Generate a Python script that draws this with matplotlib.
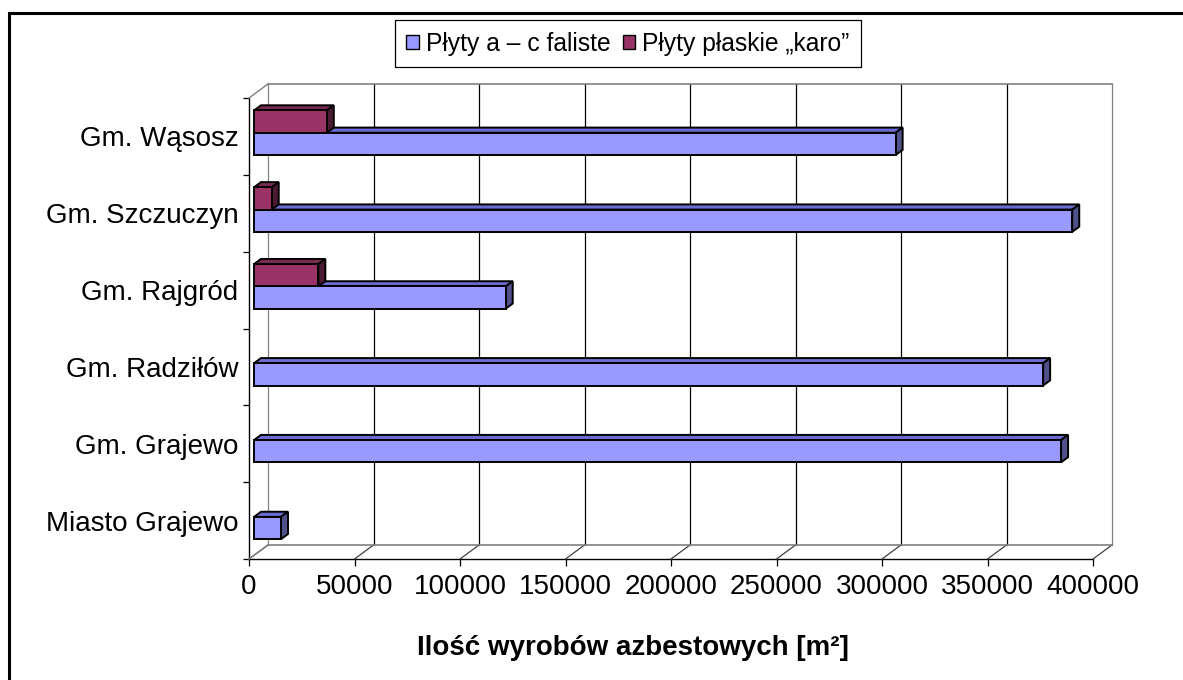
# wykres ilości wyrobów azbestowych wg gmin (styl Excel 3D)
import numpy as np
import matplotlib
matplotlib.use('Agg')
import matplotlib.pyplot as plt
from matplotlib.patches import Polygon, Patch, Rectangle
from matplotlib.lines import Line2D
from matplotlib.transforms import IdentityTransform

plt.rcParams['font.family'] = ['Liberation Sans', 'DejaVu Sans']

# -----------------dane
gminy = ['Miasto Grajewo', 'Gm. Grajewo', 'Gm. Radziłów', 'Gm. Rajgród',
         'Gm. Szczuczyn', 'Gm. Wąsosz']
faliste = [12800, 382500, 374000, 119300, 387800, 304100]  # Płyty a – c faliste
karo = [0, 0, 0, 30500, 8400, 34500]                        # Płyty płaskie „karo”
serie = ['Płyty a – c faliste', 'Płyty płaskie „karo”']
xticks = list(range(0, 400001, 50000))

# -----------------kolory (przód, góra, bok)
kol_fal = ('#9999FF', '#6B6BD0', '#50508A')
kol_karo = ('#993366', '#7A2952', '#4D1A33')

W, H = 1183, 680
fig = plt.figure(figsize=(W / 100, H / 100), dpi=100)
ax = fig.add_axes([249 / W, 1 - 559 / H, (1093 - 249) / W, (559 - 98) / H])
ax.set_xlim(0, 400000)
ax.set_ylim(0, len(gminy))

glebia = np.array([19.0, 14.0])  # przesunięcie tylnej ściany w pikselach


def pkt(x, y, d):  # punkt (wartość, kategoria, głębokość 0..1) -> piksele
    return ax.transData.transform((x, y)) + d * glebia


def linia(p1, p2, kolor, lw=1.0, z=1):
    fig.add_artist(Line2D([p1[0], p2[0]], [p1[1], p2[1]], color=kolor, lw=lw,
                          transform=IdentityTransform(), zorder=z))


def wielokat(pts, kolor, z):
    fig.add_artist(Polygon(pts, closed=True, facecolor=kolor, edgecolor='black',
                           lw=1.4, joinstyle='miter', transform=IdentityTransform(),
                           zorder=z))


# -----------------ściany
n = len(gminy)
szary = '#808080'
for x in xticks:
    kol = szary if x in (xticks[0], xticks[-1]) else 'black'
    linia(pkt(x, 0, 1), pkt(x, n, 1), kol, 0.9)
    linia(pkt(x, 0, 0), pkt(x, 0, 1), '#404040', 0.9)
linia(pkt(0, n, 1), pkt(400000, n, 1), szary, 1.2)
linia(pkt(0, 0, 1), pkt(400000, 0, 1), szary, 1.2)
linia(pkt(0, n, 0), pkt(0, n, 1), szary, 1.0)
linia(pkt(0, 0, 0), pkt(0, 0, 1), szary, 1.0)

# -----------------słupki
h = 0.29
df, db = 5 / 19, 12 / 19
z = 5
for i in range(n):
    c = i + 0.5
    for v, y0, y1, kol in ((faliste[i], c - h, c, kol_fal), (karo[i], c, c + h, kol_karo)):
        if v <= 0:
            continue
        przod = [pkt(0, y0, df), pkt(v, y0, df), pkt(v, y1, df), pkt(0, y1, df)]
        gora = [pkt(0, y1, df), pkt(v, y1, df), pkt(v, y1, db), pkt(0, y1, db)]
        bok = [pkt(v, y0, df), pkt(v, y0, db), pkt(v, y1, db), pkt(v, y1, df)]
        wielokat(gora, kol[1], z)
        wielokat(bok, kol[2], z)
        wielokat(przod, kol[0], z + 0.5)
        z += 1

# -----------------osie
for s in ('top', 'right'):
    ax.spines[s].set_visible(False)
for s in ('left', 'bottom'):
    ax.spines[s].set_color('black')
    ax.spines[s].set_linewidth(1.0)
ax.patch.set_visible(False)

ax.set_xticks(xticks)
ax.set_xticklabels([str(x) for x in xticks], fontsize=20)
ax.tick_params(axis='x', length=5, width=0.9, pad=6)

ax.set_yticks(range(n + 1))
ax.set_yticklabels([])
ax.tick_params(axis='y', which='major', length=4.5, width=0.9)
ax.set_yticks([i + 0.5 for i in range(n)], minor=True)
ax.set_yticklabels(gminy, minor=True, fontsize=20)
ax.tick_params(axis='y', which='minor', length=0, pad=7.5)

# -----------------legenda
uchwyty = [Patch(facecolor=kol_fal[0], edgecolor='black', lw=1.0),
           Patch(facecolor=kol_karo[0], edgecolor='black', lw=1.0)]
leg = fig.legend(uchwyty, serie, loc='center', bbox_to_anchor=(628 / W, 1 - 43.5 / H),
                 ncol=2, fontsize=17.7, frameon=True, fancybox=False, edgecolor='black',
                 framealpha=1, handlelength=0.5, handleheight=0.5, handletextpad=0.3,
                 columnspacing=0.5, borderpad=0.45, borderaxespad=0)
leg.get_frame().set_linewidth(0.9)

# -----------------opis osi
fig.text(633 / W, 1 - 648 / H, 'Ilość wyrobów azbestowych [m²]', ha='center',
         va='center', fontsize=20, fontweight='bold')

# -----------------ramka
fig.add_artist(Rectangle((9 / W, -0.05), 1.1, 1.05 - 13 / H, fill=False,
                         edgecolor='black', lw=2.2, transform=fig.transFigure,
                         clip_on=False))

fig.savefig('out.png', dpi=100)
